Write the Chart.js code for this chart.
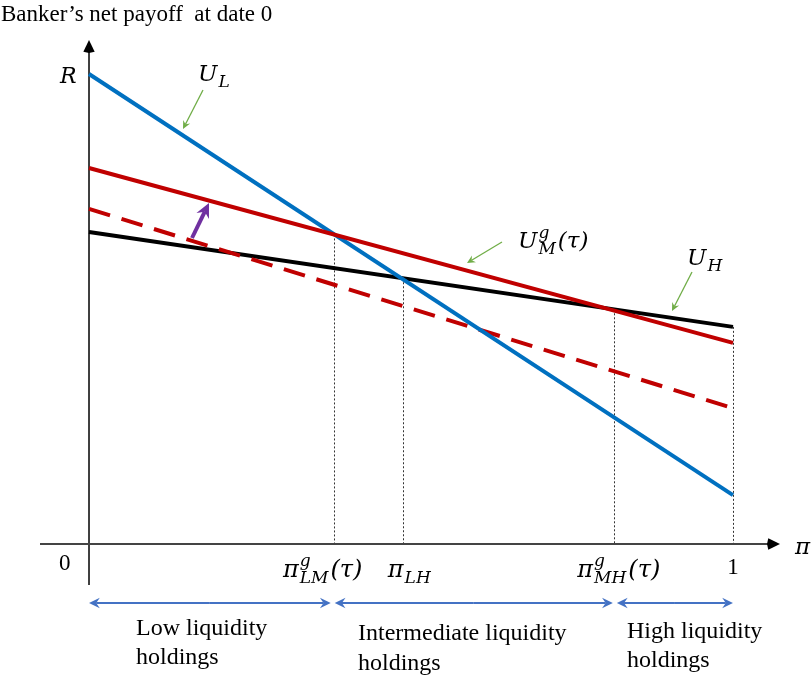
<!DOCTYPE html>
<html>
<head>
<meta charset="utf-8">
<script src="https://cdn.jsdelivr.net/npm/chart.js@4"></script>
<style>
  html, body { margin: 0; padding: 0; background: #fff; }
  #wrap { width: 811px; height: 686px; position: relative; }
</style>
</head>
<body>
<div id="wrap"><canvas id="payoff_chart" width="811" height="686"></canvas></div>
<script>
// pi runs from 0 to 1, payoffs are scaled so that R = 1
const piValues = [0, 1];
const uL = [1.0, 0.104];
const uMg = [0.800, 0.428];
const uMgBefore = [0.713, 0.289];
const uH = [0.664, 0.462];

// cut-offs: pi_LM^g(tau), pi_LH, pi_MH^g(tau), 1
const cutoffs = [0.380, 0.488, 0.815, 1];
const cutoffLines = [uMg, uH, uH, uH];

const pts = ys => piValues.map((p, i) => ({ x: p, y: ys[i] }));
const lineAt = (ys, p) => ys[0] + (ys[1] - ys[0]) * p;

const serif = '"Liberation Serif", "DejaVu Serif", serif';
const mathFont = '"DejaVu Serif", "Liberation Serif", serif';

function arrowHead(ctx, x1, y1, x2, y2, size, color, notch) {
  const a = Math.atan2(y2 - y1, x2 - x1);
  const n = notch === undefined ? 0.6 : notch;
  ctx.fillStyle = color;
  ctx.beginPath();
  ctx.moveTo(x2, y2);
  ctx.lineTo(x2 - size * Math.cos(a - 0.45), y2 - size * Math.sin(a - 0.45));
  ctx.lineTo(x2 - size * n * Math.cos(a), y2 - size * n * Math.sin(a));
  ctx.lineTo(x2 - size * Math.cos(a + 0.45), y2 - size * Math.sin(a + 0.45));
  ctx.closePath();
  ctx.fill();
}

function arrow(ctx, x1, y1, x2, y2, color, width, size) {
  const a = Math.atan2(y2 - y1, x2 - x1);
  ctx.strokeStyle = color;
  ctx.lineWidth = width;
  ctx.beginPath();
  ctx.moveTo(x1, y1);
  ctx.lineTo(x2 - size * 0.6 * Math.cos(a), y2 - size * 0.6 * Math.sin(a));
  ctx.stroke();
  arrowHead(ctx, x1, y1, x2, y2, size, color);
}

function doubleArrow(ctx, x1, x2, y, color) {
  arrow(ctx, (x1 + x2) / 2, y, x1, y, color, 2, 12);
  arrow(ctx, (x1 + x2) / 2, y, x2, y, color, 2, 12);
}

// base letter, optional superscript / subscript, optional tail like "(τ)"
function mathLabel(ctx, x, y, base, sup, sub, tail, size, align) {
  const big = 'italic ' + size + 'px ' + mathFont;
  const small = 'italic ' + Math.round(size * 0.72) + 'px ' + mathFont;
  ctx.font = big;
  const wb = ctx.measureText(base).width;
  const wt = tail ? ctx.measureText(tail).width : 0;
  ctx.font = small;
  const ws = Math.max(sup ? ctx.measureText(sup).width : 0, sub ? ctx.measureText(sub).width : 0);
  const total = wb + ws + wt + 3;
  let x0 = x;
  if (align === 'center') x0 = x - total / 2;
  ctx.fillStyle = '#000';
  ctx.textAlign = 'left';
  ctx.textBaseline = 'alphabetic';
  ctx.font = big;
  ctx.fillText(base, x0, y);
  ctx.font = small;
  if (sup) ctx.fillText(sup, x0 + wb + 1, y - size * 0.45);
  if (sub) ctx.fillText(sub, x0 + wb + 1, y + size * 0.25);
  if (tail) {
    ctx.font = big;
    ctx.fillText(tail, x0 + wb + ws + 3, y);
  }
}

const decorations = {
  id: 'decorations',
  beforeDatasetsDraw(chart) {
    const { ctx, scales: { x, y } } = chart;
    const x0 = x.getPixelForValue(0);
    const y0 = y.getPixelForValue(0);
    ctx.save();
    // dotted guides down from the cut-offs
    ctx.strokeStyle = '#333';
    ctx.lineWidth = 1;
    ctx.setLineDash([2, 2]);
    cutoffs.forEach((c, i) => {
      const px = Math.round(x.getPixelForValue(c)) + 0.5;
      ctx.beginPath();
      ctx.moveTo(px, y.getPixelForValue(lineAt(cutoffLines[i], c)));
      ctx.lineTo(px, y0);
      ctx.stroke();
    });
    ctx.setLineDash([]);
    // axes
    ctx.strokeStyle = '#000';
    ctx.lineWidth = 1.5;
    ctx.beginPath();
    ctx.moveTo(x0, chart.chartArea.bottom);
    ctx.lineTo(x0, chart.chartArea.top + 8);
    ctx.stroke();
    arrowHead(ctx, x0, y0, x0, chart.chartArea.top, 13, '#000', 1);
    ctx.strokeStyle = '#444';
    ctx.lineWidth = 2;
    ctx.beginPath();
    ctx.moveTo(chart.chartArea.left, y0);
    ctx.lineTo(chart.chartArea.right - 8, y0);
    ctx.stroke();
    arrowHead(ctx, x0, y0, chart.chartArea.right, y0, 13, '#000', 1);
    ctx.restore();
  },
  afterDatasetsDraw(chart) {
    const { ctx, scales: { x, y } } = chart;
    const px = v => x.getPixelForValue(v);
    const py = v => y.getPixelForValue(v);
    ctx.save();

    ctx.fillStyle = '#000';
    ctx.font = '23px ' + serif;
    ctx.textAlign = 'left';
    ctx.textBaseline = 'alphabetic';
    ctx.fillText('Banker\u2019s net payoff  at date 0', 1, 21);

    // y axis label R and origin
    ctx.font = 'italic 22px ' + mathFont;
    ctx.fillText('R', 60, py(1) + 9);
    ctx.font = '23px ' + serif;
    ctx.fillText('0', 59, py(0) + 26);
    ctx.textAlign = 'center';
    ctx.fillText('1', px(1), py(0) + 30);
    ctx.textAlign = 'left';
    ctx.font = 'italic 23px ' + mathFont;
    ctx.fillText('\u03C0', 795, py(0) + 10);

    // tick labels at the cut-offs
    mathLabel(ctx, px(cutoffs[0]) - 11, py(0) + 33, '\u03C0', 'g', 'LM', '(\u03C4)', 24, 'center');
    mathLabel(ctx, px(cutoffs[1]) + 7, py(0) + 33, '\u03C0', null, 'LH', null, 24, 'center');
    mathLabel(ctx, px(cutoffs[2]) + 5, py(0) + 33, '\u03C0', 'g', 'MH', '(\u03C4)', 24, 'center');

    // curve labels
    mathLabel(ctx, 198, 81, 'U', null, 'L', null, 23, 'left');
    mathLabel(ctx, 518, 248, 'U', 'g', 'M', '(\u03C4)', 23, 'left');
    mathLabel(ctx, 687, 265, 'U', null, 'H', null, 23, 'left');

    // green pointers
    const green = '#70AD47';
    arrow(ctx, 203, 90, 183, 129, green, 1.3, 9);
    arrow(ctx, 502, 242, 467, 263, green, 1.3, 9);
    arrow(ctx, 692, 272, 672, 311, green, 1.3, 9);

    // purple shift arrow
    arrow(ctx, 192, 238, 209, 203, '#7030A0', 4, 16);

    // liquidity regions
    const blue = '#4472C4';
    doubleArrow(ctx, px(0), px(cutoffs[0]) - 3, 603, blue);
    doubleArrow(ctx, px(cutoffs[0]) + 1, px(cutoffs[2]) - 1, 603, blue);
    doubleArrow(ctx, px(cutoffs[2]) + 3, px(1), 603, blue);

    ctx.fillStyle = '#000';
    ctx.font = '24px ' + serif;
    ctx.textAlign = 'left';
    ctx.fillText('Low liquidity', 136, 635);
    ctx.fillText('holdings', 136, 664);
    ctx.fillText('Intermediate liquidity', 358, 640);
    ctx.fillText('holdings', 358, 670);
    ctx.fillText('High liquidity', 627, 638);
    ctx.fillText('holdings', 627, 667);
    ctx.restore();
  }
};

const ctx = document.getElementById('payoff_chart').getContext('2d');

new Chart(ctx, {
  type: 'line',
  data: {
    datasets: [
      { label: 'U_M^g(tau)', data: pts(uMg), borderColor: '#C00000', borderWidth: 4, order: 1 },
      { label: 'U_L', data: pts(uL), borderColor: '#0070C0', borderWidth: 4, order: 2 },
      { label: 'U_M^g before', data: pts(uMgBefore), borderColor: '#C00000', borderWidth: 4,
        borderDash: [22, 12], order: 3 },
      { label: 'U_H', data: pts(uH), borderColor: '#000000', borderWidth: 4, order: 4 }
    ]
  },
  options: {
    responsive: false,
    animation: false,
    layout: { padding: { left: 40, right: 31, top: 40, bottom: 101 } },
    elements: { point: { radius: 0 }, line: { tension: 0, borderCapStyle: 'butt' } },
    scales: {
      x: { type: 'linear', min: -0.0761, max: 1.0730, display: false },
      y: { type: 'linear', min: -0.0872, max: 1.0723, display: false }
    },
    plugins: {
      legend: { display: false },
      tooltip: { enabled: false }
    }
  },
  plugins: [decorations]
});
</script>
</body>
</html>
